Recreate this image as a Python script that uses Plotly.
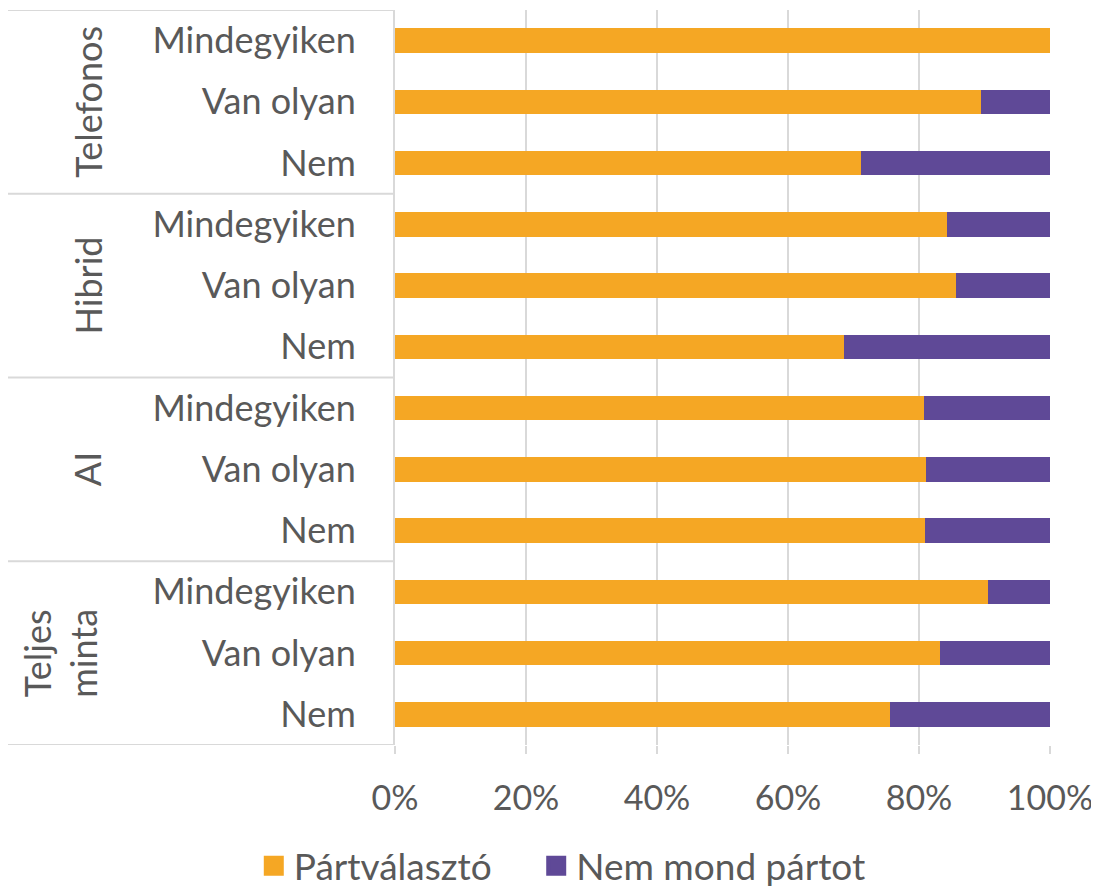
import plotly.graph_objects as go

groups = ["Teljes<br>minta", "AI", "Hibrid", "Telefonos"]
rows = ["Nem", "Van olyan", "Mindegyiken"]
# bottom to top order: Teljes minta (Nem, Van olyan, Mindegyiken), AI, Hibrid, Telefonos
partvalaszto = [75.5, 83.2, 90.6, 80.9, 81.1, 80.8, 68.5, 85.7, 84.3, 71.2, 89.5, 100.0]
nem_mond = [100 - v for v in partvalaszto]
row_labels = [r for g in groups for r in rows]
ypos = list(range(len(row_labels)))
series_names = ["Pártválasztó", "Nem mond pártot"]

ORANGE = "#F5A724"
PURPLE = "#5F4997"
GRID = "#D9D9D9"
TXT = "#595959"
FONT = "Lato"
FS = 36

fig = go.Figure()
for vals, name, col in [(partvalaszto, series_names[0], ORANGE), (nem_mond, series_names[1], PURPLE)]:
    fig.add_trace(go.Bar(y=ypos, x=[v / 100 for v in vals], orientation="h",
                         name=name, marker=dict(color=col, line=dict(width=0)),
                         width=0.4, showlegend=False))
# legend proxies (larger square markers), each in its own legend box
for name, col, lg in [(series_names[0], ORANGE, "legend"), (series_names[1], PURPLE, "legend2")]:
    fig.add_trace(go.Scatter(x=[None], y=[None], mode="markers", name=name, legend=lg,
                             marker=dict(symbol="square", size=16, color=col,
                                         line=dict(color=col, width=4))))

leg_common = dict(orientation="h", y=-0.165, yanchor="middle", xanchor="left",
                  font=dict(size=37, color=TXT), itemwidth=30, itemsizing="trace",
                  bgcolor="rgba(0,0,0,0)")
fig.update_layout(
    barmode="stack",
    width=1091, height=879,
    margin=dict(l=386.5, r=49, t=2, b=142, autoexpand=False),
    plot_bgcolor="white", paper_bgcolor="white",
    font=dict(family=FONT, size=FS, color=TXT),
    showlegend=True,
    legend=dict(x=-0.2156, **leg_common),
    legend2=dict(x=0.2156, **leg_common),
)
fig.update_xaxes(range=[0, 1], tickvals=[0, 0.2, 0.4, 0.6, 0.8, 1.0],
                 ticktext=["0%", "20%", "40%", "60%", "80%", "100%"],
                 tickfont=dict(size=34),
                 showgrid=True, gridcolor=GRID, gridwidth=2, zeroline=False,
                 ticks="outside", ticklen=8, tickcolor=GRID, tickwidth=2,
                 ticklabelstandoff=15, showline=False, fixedrange=True)
fig.update_yaxes(range=[-0.5, len(ypos) - 0.5], tickvals=ypos, ticktext=row_labels,
                 showgrid=False, zeroline=False, showline=True, linecolor=GRID, linewidth=2,
                 ticks="", ticklabelstandoff=30, fixedrange=True)

# group separator lines
for k in range(len(groups) + 1):
    yv = -0.5 + 3 * k
    fig.add_shape(type="line", xref="paper", yref="y", x0=-0.591, x1=0, y0=yv, y1=yv,
                  line=dict(color=GRID, width=2))
# group labels
for i, g in enumerate(groups):
    xp = -0.512 if "<br>" in g else -0.469
    fig.add_annotation(text=g, xref="paper", yref="y", x=xp, y=3 * i + 1,
                       textangle=-90, showarrow=False, font=dict(size=FS, color=TXT),
                       xanchor="center", yanchor="middle")

fig.write_html("out.html")
